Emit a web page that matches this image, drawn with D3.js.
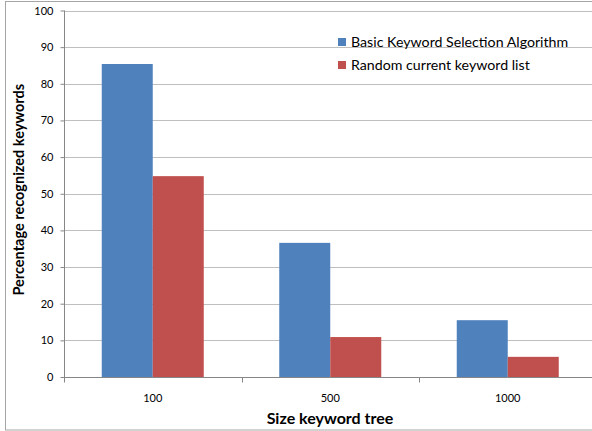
<!DOCTYPE html>
<html>
<head>
<meta charset="utf-8">
<script src="https://cdn.jsdelivr.net/npm/d3@7"></script>
<style>
  html, body { margin: 0; padding: 0; background: #fff; }
  svg { display: block; }
  text { font-family: Lato, "Open Sans", "Liberation Sans", sans-serif; }
</style>
</head>
<body>
<svg id="chart" width="592" height="431"></svg>
<script>
// Keyword tree sizes and recognition rates (%)
const categories = ["100", "500", "1000"];
const seriesNames = ["Basic Keyword Selection Algorithm", "Random current keyword list"];
const basicValues = [85.4, 36.6, 15.5];
const randomValues = [54.8, 10.9, 5.5];
const seriesColors = ["#4f81bd", "#c0504d"];
const yTicks = [0, 10, 20, 30, 40, 50, 60, 70, 80, 90, 100];

const svg = d3.select("#chart");

// frame around the chart
svg.append("rect")
  .attr("x", 5.5).attr("y", 1.5)
  .attr("width", 600).attr("height", 428.5)
  .attr("fill", "none").attr("stroke", "#a6a6a6");

const plotLeft = 64, plotRight = 596.5, plotTop = 10.5, plotBottom = 377;

const y = d3.scaleLinear().domain([0, 100]).range([plotBottom, plotTop]);
const x0 = d3.scaleBand().domain(categories).range([plotLeft, plotRight]).padding(0);
const x1 = d3.scaleBand().domain(seriesNames).range([0, x0.bandwidth()])
  .paddingInner(0).paddingOuter(0.74);

// horizontal gridlines
svg.append("g").selectAll("line")
  .data(yTicks.filter(d => d > 0))
  .join("line")
  .attr("x1", plotLeft).attr("x2", plotRight)
  .attr("y1", d => Math.round(y(d)) + 0.5).attr("y2", d => Math.round(y(d)) + 0.5)
  .attr("stroke", "#bfbfbf").attr("stroke-width", 1);

// bars
const rows = categories.map((c, i) => ({ cat: c, vals: [basicValues[i], randomValues[i]] }));
const groups = svg.append("g").selectAll("g")
  .data(rows)
  .join("g")
  .attr("transform", d => `translate(${x0(d.cat)},0)`);
groups.selectAll("rect")
  .data(d => d.vals.map((v, k) => ({ name: seriesNames[k], v, k })))
  .join("rect")
  .attr("x", d => x1(d.name))
  .attr("width", x1.bandwidth())
  .attr("y", d => y(d.v))
  .attr("height", d => y(0) - y(d.v))
  .attr("fill", d => seriesColors[d.k]);

// y axis
const yAxis = d3.axisLeft(y).tickValues(yTicks).tickSize(4).tickPadding(7);
const gy = svg.append("g").attr("transform", `translate(${plotLeft + 0.5},0)`).call(yAxis);
gy.attr("font-family", null);
gy.select(".domain").attr("stroke", "#868686").attr("d", `M0,${plotTop}V${plotBottom}`);
gy.selectAll(".tick line").attr("stroke", "#868686");
gy.selectAll(".tick text").attr("font-size", 11).attr("fill", "#000");

// x axis: ticks sit on category boundaries, labels at centres
const gx = svg.append("g").attr("transform", `translate(0,${plotBottom + 0.5})`);
gx.append("line").attr("x1", plotLeft).attr("x2", plotRight).attr("stroke", "#868686");
gx.selectAll(".bt")
  .data(categories)
  .join("line")
  .attr("class", "bt")
  .attr("x1", d => Math.round(x0(d)) + 0.5).attr("x2", d => Math.round(x0(d)) + 0.5)
  .attr("y1", 0).attr("y2", 5)
  .attr("stroke", "#868686");
gx.selectAll("text")
  .data(categories)
  .join("text")
  .attr("x", d => x0(d) + x0.bandwidth() / 2)
  .attr("y", 24)
  .attr("text-anchor", "middle")
  .attr("font-size", 11)
  .attr("fill", "#000")
  .text(d => d);

// axis titles
svg.append("text")
  .attr("x", 330).attr("y", 424)
  .attr("text-anchor", "middle")
  .attr("font-size", 16).attr("font-weight", "bold")
  .text("Size keyword tree");

svg.append("text")
  .attr("transform", `translate(24,${(plotTop + plotBottom) / 2 - 4}) rotate(-90)`)
  .attr("text-anchor", "middle")
  .attr("font-size", 14.5).attr("font-weight", "bold")
  .text("Percentage recognized keywords");

// legend
const legend = svg.append("g").selectAll("g")
  .data(seriesNames)
  .join("g")
  .attr("transform", (d, i) => `translate(338,${38 + i * 23})`);
legend.append("rect")
  .attr("width", 8).attr("height", 8)
  .attr("fill", (d, i) => seriesColors[i]);
legend.append("text")
  .attr("x", 13).attr("y", 8.5)
  .attr("font-size", 14.2)
  .attr("fill", "#000")
  .text(d => d);
</script>
</body>
</html>
